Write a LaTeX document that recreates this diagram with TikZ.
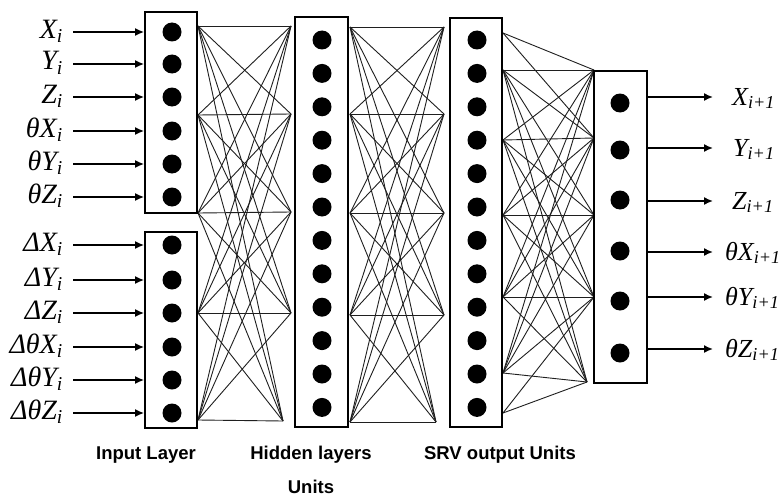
\documentclass[tikz,border=0pt]{standalone}
\usepackage{fontspec}
\setmainfont{Liberation Serif}
\newfontfamily\capfont{Liberation Sans}
\usetikzlibrary{arrows.meta}
\tikzset{
  layerbox/.style={draw=black, line width=1.8pt, fill=white, inner sep=0pt},
  unit/.style={circle, fill=black, minimum size=19pt, inner sep=0pt},
  conn/.style={draw=black!88, line width=0.9pt},
  inarr/.style={draw=black, line width=1.6pt, -{Latex[length=9pt,width=8pt]}},
  inlbl/.style={anchor=base east, inner sep=0pt, font=\fontsize{28}{30}\selectfont\itshape},
  outlbl/.style={anchor=base west, inner sep=0pt, font=\fontsize{26}{28}\selectfont\itshape},
  caplbl/.style={anchor=base, inner sep=0pt, font=\fontsize{18.5}{20}\selectfont\capfont\bfseries}
}
\begin{document}
\begin{tikzpicture}[x=1pt,y=-1pt]
\useasboundingbox (0,0) rectangle (781,503);
\fill[white] (0,0) rectangle (781,503);

% connector anchor coordinates
\foreach \i/\y in {1/26,2/115,3/213,4/313,5/420} \coordinate (aL\i) at (198,\y);
\foreach \i/\y in {1/26,2/114,3/212,4/313} \coordinate (aR\i) at (291,\y);
\coordinate (aR5) at (283,421);
\foreach \i/\y in {1/27,2/114,3/213,4/315,5/422} \coordinate (bL\i) at (350,\y);
\foreach \i/\y in {1/27,2/114,3/213,4/315} \coordinate (bR\i) at (444,\y);
\coordinate (bR5) at (436,422);
\foreach \i/\y in {0/33,1/70,2/140,3/215,4/297,5/373,6/413} \coordinate (cL\i) at (503,\y);
\foreach \i/\y in {1/70,2/138,3/215,4/297} \coordinate (cR\i) at (594,\y);
\coordinate (cR5) at (587,382);

% connections
\foreach \a in {1,...,5}{\foreach \b in {1,...,5}{
  \draw[conn] (aL\a) -- (aR\b);
  \draw[conn] (bL\a) -- (bR\b);
  \draw[conn] (cL\a) -- (cR\b);
}}
\draw[conn] (cL0) -- (cR1);
\draw[conn] (cL0) -- (cR2);
\draw[conn] (cL6) -- (cR5);
\draw[conn] (cL6) -- (cR4);

% layer boxes
\node[layerbox, minimum width=52pt, minimum height=201pt] (in1) at (171,112.5) {};
\node[layerbox, minimum width=52pt, minimum height=196pt] (in2) at (171,330) {};
\node[layerbox, minimum width=53pt, minimum height=410pt] (hid1) at (321.5,222) {};
\node[layerbox, minimum width=52pt, minimum height=409pt] (hid2) at (476,222.5) {};
\node[layerbox, minimum width=53pt, minimum height=312pt] (out) at (620.5,227) {};

% units
\foreach \i/\y in {1/32,2/64,3/97,4/131,5/164,6/197} \node[unit] (u-in1-\i) at (172,\y) {};
\foreach \i/\y in {1/245,2/280,3/313,4/347,5/380,6/413} \node[unit] (u-in2-\i) at (172,\y) {};
\foreach \i in {1,...,12}{
  \node[unit] (u-hid1-\i) at (322,{40+(\i-1)*33.4}) {};
  \node[unit] (u-hid2-\i) at (477,{40+(\i-1)*33.4}) {};
}
\foreach \i/\y in {1/103,2/150,3/200,4/251,5/301,6/353} \node[unit] (u-out-\i) at (620,\y) {};

% input arrows and labels
\foreach \i/\y/\t in {1/32/{X\textsubscript{i}},2/64/{Y\textsubscript{i}},3/97/{Z\textsubscript{i}},
  4/131/{θX\textsubscript{i}},5/164/{θY\textsubscript{i}},6/197/{θZ\textsubscript{i}},
  7/245/{ΔX\textsubscript{i}},8/280/{ΔY\textsubscript{i}},9/313/{ΔZ\textsubscript{i}},
  10/347/{ΔθX\textsubscript{i}},11/380/{ΔθY\textsubscript{i}},12/413/{ΔθZ\textsubscript{i}}}{
  \coordinate (ia\i) at (73,\y);
  \node[inlbl] (il\i) at (63,\y+6) {\t};
}
\foreach \i in {1,...,6} \draw[inarr] (ia\i) -- (ia\i -| in1.west);
\foreach \i in {7,...,12} \draw[inarr] (ia\i) -- (ia\i -| in2.west);

% output arrows and labels
\foreach \i/\y/\x/\t in {1/97/732/{X\textsubscript{i+1}},2/148/733/{Y\textsubscript{i+1}},3/201/732/{Z\textsubscript{i+1}},
  4/252/725/{θX\textsubscript{i+1}},5/297/725/{θY\textsubscript{i+1}},6/349/725/{θZ\textsubscript{i+1}}}{
  \coordinate (oa\i) at (713,\y);
  \draw[inarr] (out.east |- oa\i) -- (oa\i);
  \node[outlbl] (ol\i) at (\x,\y+8) {\t};
}

% captions
\node[caplbl] (cap-in) at (146,459) {Input Layer};
\node[caplbl] (cap-hid) at (311,459) {Hidden layers};
\node[caplbl] (cap-units) at (311,493) {Units};
\node[caplbl] (cap-out) at (500,459) {SRV output Units};
\end{tikzpicture}
\end{document}
